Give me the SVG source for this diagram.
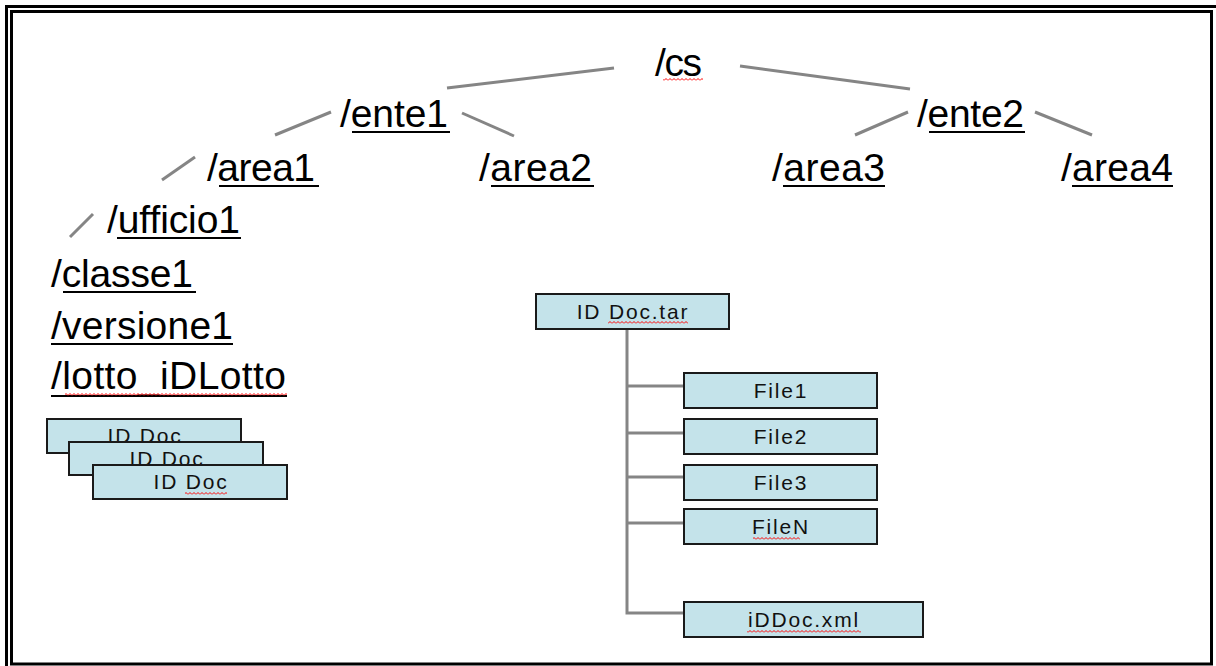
<svg xmlns="http://www.w3.org/2000/svg" width="1216" height="666" viewBox="0 0 1216 666">
  <defs>
    <style>
      .lbl { font-family: "Liberation Sans", Arial, sans-serif; font-size: 39px; fill: #000; }
      .box { fill: #c4e3ea; stroke: #1a1a1a; stroke-width: 2; }
      .btxt { font-family: "Liberation Sans", Arial, sans-serif; font-size: 21px; letter-spacing: 1.8px; fill: #111; text-anchor: middle; }
      .ul { stroke: #000; stroke-width: 2; }
      .link { stroke: #858585; stroke-width: 3; fill: none; stroke-linecap: butt; }
      .frame { fill: none; stroke: #000; }
    </style>
    <!-- red spell-check squiggle -->
    <pattern id="wavy" width="4" height="3" patternUnits="userSpaceOnUse">
      <path d="M0,2.5 L2,0.5 L4,2.5" stroke="#ff0000" stroke-width="1" fill="none"/>
    </pattern>
  </defs>

  <rect width="1216" height="666" fill="#fff"/>

  <!-- double page border -->
  <g id="border">
    <path class="frame" d="M6.5,666 V6.5 H1216" stroke-width="3"/>
    <rect class="frame" x="11.5" y="11.5" width="1200" height="652.5" stroke-width="3"/>
  </g>

  <!-- connectors -->
  <g id="connectors">
    <line class="link" x1="447" y1="88" x2="614" y2="68"/>
    <line class="link" x1="740" y1="66" x2="910" y2="89"/>
    <line class="link" x1="275" y1="135" x2="331" y2="112"/>
    <line class="link" x1="462" y1="113" x2="514" y2="136"/>
    <line class="link" x1="855" y1="135" x2="908" y2="112"/>
    <line class="link" x1="1035" y1="112" x2="1092" y2="135"/>
    <line class="link" x1="162" y1="180" x2="195" y2="157"/>
    <line class="link" x1="70" y1="237" x2="93" y2="214"/>
    <!-- archive tree -->
    <path class="link" d="M627,329 V613 H684"/>
    <path class="link" d="M627,386 H684 M627,433 H684 M627,477 H684 M627,523 H684"/>
  </g>

  <!-- folder hierarchy -->
  <g id="cs">
    <text class="lbl" x="655" y="76" textLength="47">/cs</text>
    <rect x="663" y="78" width="40" height="3" fill="url(#wavy)"/>
  </g>
  <g id="ente1">
    <text class="lbl" x="340" y="127" textLength="108">/ente1</text>
    <line class="ul" x1="352" y1="132" x2="450" y2="132"/>
  </g>
  <g id="ente2">
    <text class="lbl" x="917" y="127" textLength="107">/ente2</text>
    <line class="ul" x1="929" y1="132" x2="1025" y2="132"/>
  </g>
  <g id="area1">
    <text class="lbl" x="207" y="181" textLength="108">/area1</text>
    <line class="ul" x1="219" y1="186" x2="319" y2="186"/>
  </g>
  <g id="area2">
    <text class="lbl" x="479" y="181" textLength="113">/area2</text>
    <line class="ul" x1="491" y1="186" x2="594" y2="186"/>
  </g>
  <g id="area3">
    <text class="lbl" x="772" y="181" textLength="113">/area3</text>
    <line class="ul" x1="783" y1="186" x2="885" y2="186"/>
  </g>
  <g id="area4">
    <text class="lbl" x="1061" y="181" textLength="112">/area4</text>
    <line class="ul" x1="1072" y1="186" x2="1173" y2="186"/>
  </g>
  <g id="ufficio1">
    <text class="lbl" x="107" y="233" textLength="133">/ufficio1</text>
    <line class="ul" x1="117" y1="238" x2="241" y2="238"/>
  </g>
  <g id="classe1">
    <text class="lbl" x="51" y="287" textLength="142">/classe1</text>
    <line class="ul" x1="63" y1="292" x2="196" y2="292"/>
  </g>
  <g id="versione1">
    <text class="lbl" x="51" y="339" textLength="182">/versione1</text>
    <line class="ul" x1="51" y1="344" x2="233" y2="344"/>
  </g>
  <g id="lotto">
    <text class="lbl" x="51" y="389" textLength="235">/lotto_iDLotto</text>
    <line class="ul" x1="51" y1="396" x2="287" y2="396"/>
    <rect x="65" y="393" width="222" height="3" fill="url(#wavy)"/>
  </g>

  <!-- stacked document records -->
  <g id="iddoc-1">
    <rect class="box" x="47" y="419" width="194" height="34"/>
    <text class="btxt" x="145" y="443">ID Doc</text>
  </g>
  <g id="iddoc-2">
    <rect class="box" x="69" y="442" width="194" height="33"/>
    <text class="btxt" x="167" y="466">ID Doc</text>
  </g>
  <g id="iddoc-3">
    <rect class="box" x="93" y="465" width="194" height="34"/>
    <text class="btxt" x="191" y="489">ID Doc</text>
    <rect x="185" y="492" width="42" height="3" fill="url(#wavy)"/>
  </g>

  <!-- archive contents -->
  <g id="tar">
    <rect class="box" x="536" y="294" width="193" height="35"/>
    <text class="btxt" x="633" y="319">ID Doc.tar</text>
    <rect x="608" y="321" width="80" height="3" fill="url(#wavy)"/>
  </g>
  <g id="file1">
    <rect class="box" x="684" y="373" width="193" height="35"/>
    <text class="btxt" x="781" y="398">File1</text>
  </g>
  <g id="file2">
    <rect class="box" x="684" y="419" width="193" height="35"/>
    <text class="btxt" x="781" y="444">File2</text>
  </g>
  <g id="file3">
    <rect class="box" x="684" y="465" width="193" height="35"/>
    <text class="btxt" x="781" y="490">File3</text>
  </g>
  <g id="fileN">
    <rect class="box" x="684" y="509" width="193" height="35"/>
    <text class="btxt" x="781" y="534">FileN</text>
    <rect x="753" y="537" width="47" height="3" fill="url(#wavy)"/>
  </g>
  <g id="xml">
    <rect class="box" x="684" y="602" width="239" height="35"/>
    <text class="btxt" x="804" y="627">iDDoc.xml</text>
    <rect x="747" y="630" width="114" height="3" fill="url(#wavy)"/>
  </g>
</svg>
